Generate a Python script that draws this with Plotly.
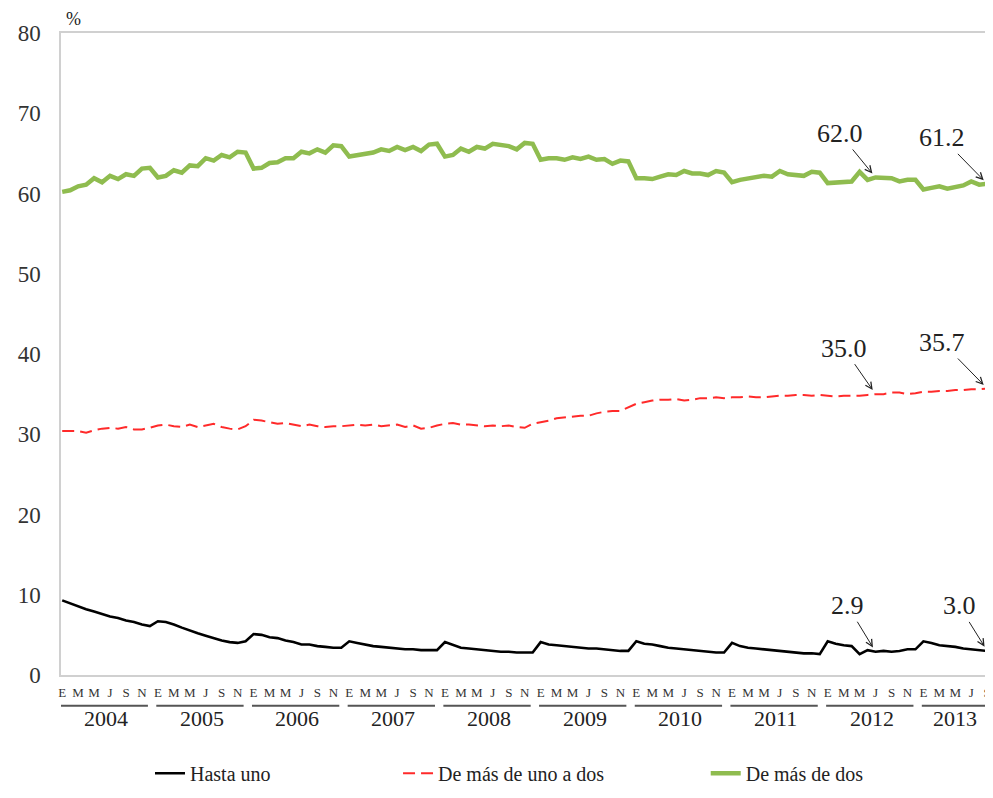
import plotly.graph_objects as go

years = [str(y) for y in range(2004, 2014)]
month_letters = ["E", "M", "M", "J", "S", "N"]

hasta_uno = [
    9.3, 8.9, 8.5, 8.2, 7.9, 7.6, 7.3, 7.1, 6.8, 6.6, 6.3, 6.1,
    6.7, 6.6, 6.3, 5.9, 5.5, 5.2, 4.9, 4.6, 4.3, 4.1, 4.0, 4.2,
    5.1, 5.0, 4.7, 4.6, 4.3, 4.1, 3.8, 3.8, 3.6, 3.5, 3.4, 3.4,
    4.2, 4.0, 3.8, 3.6, 3.5, 3.4, 3.3, 3.2, 3.2, 3.1, 3.1, 3.1,
    4.1, 3.7, 3.4, 3.3, 3.2, 3.1, 3.0, 2.9, 2.9, 2.8, 2.8, 2.8,
    4.1, 3.8, 3.7, 3.6, 3.5, 3.4, 3.3, 3.3, 3.2, 3.1, 3.0, 3.0,
    4.2, 3.9, 3.8, 3.6, 3.4, 3.3, 3.2, 3.1, 3.0, 2.9, 2.8, 2.8,
    4.0, 3.6, 3.4, 3.3, 3.2, 3.1, 3.0, 2.9, 2.8, 2.7, 2.7, 2.6,
    4.2, 3.9, 3.7, 3.6, 2.6, 3.1, 2.9, 3.0, 2.9, 3.0, 3.2, 3.2,
    4.2, 4.0, 3.7, 3.6, 3.5, 3.3, 3.2, 3.1, 3.0,
]

uno_a_dos = [
    30.4, 30.4, 30.4, 30.2, 30.5, 30.7, 30.8, 30.7, 30.9, 30.6, 30.6, 30.8,
    31.1, 31.2, 31.0, 30.9, 31.2, 30.9, 31.1, 31.3, 30.9, 30.7, 30.6, 31.0,
    31.8, 31.7, 31.5, 31.3, 31.4, 31.2, 31.0, 31.2, 31.0, 30.9, 31.0, 31.0,
    31.1, 31.2, 31.1, 31.2, 31.0, 31.1, 31.2, 30.9, 31.1, 30.7, 30.8, 31.1,
    31.3, 31.4, 31.2, 31.2, 31.1, 31.0, 31.1, 31.0, 31.1, 30.9, 30.8, 31.3,
    31.5, 31.7, 32.0, 32.1, 32.2, 32.3, 32.3, 32.6, 32.8, 32.9, 32.9, 33.4,
    33.8, 34.0, 34.2, 34.3, 34.3, 34.4, 34.2, 34.3, 34.5, 34.5, 34.6, 34.5,
    34.6, 34.6, 34.7, 34.6, 34.6, 34.7, 34.8, 34.8, 34.9, 34.9, 34.8, 34.9,
    34.8, 34.7, 34.8, 34.8, 34.8, 34.9, 35.0, 35.0, 35.2, 35.2, 35.0, 35.1,
    35.3, 35.3, 35.4, 35.4, 35.5, 35.5, 35.6, 35.6, 35.7,
]

mas_de_dos = [
    60.2, 60.4, 60.9, 61.1, 61.9, 61.4, 62.2, 61.8, 62.4, 62.2, 63.1, 63.2,
    62.0, 62.2, 62.9, 62.6, 63.5, 63.4, 64.4, 64.1, 64.8, 64.5, 65.2, 65.1,
    63.1, 63.2, 63.8, 63.9, 64.4, 64.4, 65.2, 65.0, 65.5, 65.1, 66.0, 65.9,
    64.6, 64.8, 65.0, 65.1, 65.5, 65.3, 65.8, 65.4, 65.8, 65.3, 66.1, 66.2,
    64.6, 64.8, 65.6, 65.2, 65.8, 65.6, 66.2, 66.0, 65.9, 65.5, 66.3, 66.2,
    64.2, 64.4, 64.4, 64.2, 64.5, 64.3, 64.6, 64.2, 64.3, 63.7, 64.1, 64.0,
    61.9, 61.9, 61.8, 62.1, 62.4, 62.3, 62.8, 62.5, 62.5, 62.3, 62.8, 62.6,
    61.4, 61.7, 61.9, 62.0, 62.2, 62.1, 62.8, 62.4, 62.3, 62.2, 62.7, 62.6,
    61.3, 61.4, 61.5, 61.5, 62.7, 61.7, 62.0, 61.9, 61.9, 61.5, 61.7, 61.7,
    60.5, 60.7, 60.9, 60.6, 60.8, 61.0, 61.5, 61.1, 61.2,
]

n = len(hasta_uno)
x = list(range(n))

FONT = "Liberation Serif"

fig = go.Figure()
fig.add_trace(go.Scatter(x=x, y=hasta_uno, mode="lines", name="Hasta uno",
                         legend="legend",
                         line=dict(color="#000000", width=2.6)))
fig.add_trace(go.Scatter(x=x, y=uno_a_dos, mode="lines", name="De más de uno a dos",
                         legend="legend2",
                         line=dict(color="#ff2a2a", width=2, dash="12px,6px")))
fig.add_trace(go.Scatter(x=x, y=mas_de_dos, mode="lines", name="De más de dos",
                         legend="legend3",
                         line=dict(color="#8fbc4f", width=4.5)))

# month tick labels (every other month)
tickvals, ticktext = [], []
for i in range(0, n, 2):
    tickvals.append(i)
    ticktext.append(month_letters[(i % 12) // 2])

shapes = []
annotations = []
for k, yr in enumerate(years):
    start = k * 12
    end = min(start + 11, n - 1)
    x1 = start + 10.75 if end == start + 11 else end + 0.3
    shapes.append(dict(type="line", xref="x", yref="paper",
                       x0=start - 0.2, x1=x1, y0=-0.048, y1=-0.048,
                       line=dict(color="#555555", width=2)))
    annotations.append(dict(x=(start + end) / 2, y=-0.068, xref="x", yref="paper",
                            text=yr, showarrow=False, yanchor="middle",
                            font=dict(family=FONT, size=22, color="#222")))

annotations.append(dict(x=0.013, y=1.003, xref="paper", yref="paper", text="%",
                        showarrow=False, xanchor="center", yanchor="bottom",
                        font=dict(family=FONT, size=18, color="#222")))

# value callouts: (month index, value, label, text offset x, text offset y)
callouts = [
    (102, mas_de_dos[102], "62.0", -36, -44),
    (116, mas_de_dos[116], "61.2", -45, -46),
    (102, uno_a_dos[102], "35.0", -32, -46),
    (116, uno_a_dos[116], "35.7", -45, -46),
    (102, hasta_uno[102], "2.9", -28, -46),
    (116, hasta_uno[116], "3.0", -28, -45),
]
for xi, yv, txt, axo, ayo in callouts:
    annotations.append(dict(x=xi, y=yv, xref="x", yref="y", text=txt,
                            showarrow=True, arrowhead=5, arrowsize=1.3, arrowwidth=1,
                            arrowcolor="#222", ax=axo, ay=ayo, standoff=5,
                            font=dict(family=FONT, size=26, color="#222")))

legend_common = dict(orientation="h", xanchor="left", y=-0.153, yanchor="middle",
                     bgcolor="rgba(0,0,0,0)",
                     font=dict(family=FONT, size=20, color="#222"))

# page body has an 8px margin, so the figure is sized/offset to compensate
fig.update_layout(
    width=985, height=790,
    margin=dict(l=53, r=3, t=25, b=123, autoexpand=False),
    paper_bgcolor="white", plot_bgcolor="white",
    font=dict(family=FONT, color="#222"),
    showlegend=True,
    legend=dict(x=0.0958, **legend_common),
    legend2=dict(x=0.3628, **legend_common),
    legend3=dict(x=0.694, **legend_common),
    xaxis=dict(range=[-0.15, 116.35], tickmode="array", tickvals=tickvals,
               ticktext=ticktext, showgrid=False, zeroline=False,
               showline=True, linecolor="#d0d0d0", linewidth=1.5, mirror=True,
               ticks="", ticklabelstandoff=5, automargin=False,
               tickfont=dict(family=FONT, size=13, color="#333")),
    yaxis=dict(range=[0, 80], tickmode="linear", tick0=0, dtick=10,
               showgrid=False, zeroline=False, showline=True,
               linecolor="#d0d0d0", linewidth=1.5, mirror=True,
               ticks="", ticklabelstandoff=14, automargin=False,
               tickfont=dict(family=FONT, size=23, color="#333")),
    shapes=shapes, annotations=annotations,
)

fig.write_html("out.html")
